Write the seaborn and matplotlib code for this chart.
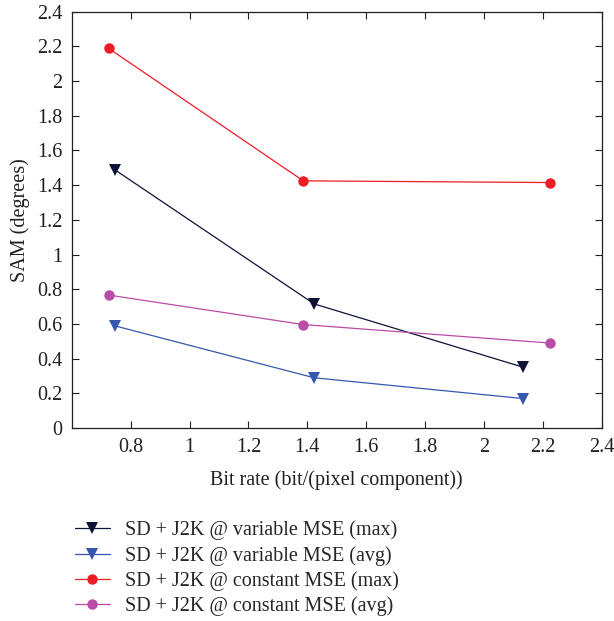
import matplotlib
matplotlib.use("Agg")
import matplotlib.pyplot as plt
import seaborn as sns
import pandas as pd

# Rate-distortion results: SAM vs bit rate
labels = [
    "SD + J2K @ variable MSE (max)",
    "SD + J2K @ variable MSE (avg)",
    "SD + J2K @ constant MSE (max)",
    "SD + J2K @ constant MSE (avg)",
]
rate_variable = [0.745, 1.423, 2.133]
rate_constant = [0.725, 1.386, 2.226]
sam_var_max = [1.49, 0.715, 0.35]
sam_var_avg = [0.589, 0.289, 0.169]
sam_const_max = [2.189, 1.425, 1.415]
sam_const_avg = [0.766, 0.596, 0.489]

colors = ["#0e1236", "#3657b0", "#ee1c25", "#b94ca6"]
markers = ["v", "v", "o", "o"]

frames = []
for lab, xs, ys in zip(
    labels,
    [rate_variable, rate_variable, rate_constant, rate_constant],
    [sam_var_max, sam_var_avg, sam_const_max, sam_const_avg],
):
    frames.append(pd.DataFrame({"rate": xs, "sam": ys, "series": lab}))
df = pd.concat(frames, ignore_index=True)

sns.set_theme(style="ticks")
plt.rcParams["font.family"] = ["Liberation Serif", "DejaVu Serif"]

fs = 14.5
fig = plt.figure(figsize=(6.14, 6.21), dpi=100)
ax = fig.add_axes([0.117, 0.311, 0.863, 0.670])

sns.lineplot(
    data=df, x="rate", y="sam", hue="series", style="series",
    hue_order=labels, style_order=labels,
    palette=dict(zip(labels, colors)),
    markers=dict(zip(labels, markers)),
    dashes=False, markersize=7.5, markeredgewidth=0, linewidth=0.9,
    sort=False, ax=ax,
)
# triangles a little larger than circles
for ln in ax.lines:
    if ln.get_marker() == "v":
        ln.set_markersize(8.5)

ax.set_xlim(0.6, 2.4)
ax.set_ylim(0, 2.4)
ax.set_xticks([0.8, 1.0, 1.2, 1.4, 1.6, 1.8, 2.0, 2.2, 2.4])
ax.set_xticklabels(["0.8", "1", "1.2", "1.4", "1.6", "1.8", "2", "2.2", "2.4"])
yt = [0, 0.2, 0.4, 0.6, 0.8, 1.0, 1.2, 1.4, 1.6, 1.8, 2.0, 2.2, 2.4]
ax.set_yticks(yt)
ax.set_yticklabels(["0", "0.2", "0.4", "0.6", "0.8", "1", "1.2", "1.4", "1.6", "1.8", "2", "2.2", "2.4"])
ax.tick_params(direction="in", top=True, right=True, length=5, width=0.8,
               labelsize=fs, colors="#231f20", pad=7)
for s in ax.spines.values():
    s.set_linewidth(0.9)
    s.set_color("#231f20")

ax.set_xlabel("Bit rate (bit/(pixel component))", fontsize=fs, color="#231f20", labelpad=10)
ax.set_ylabel("SAM (degrees)", fontsize=fs, color="#231f20", labelpad=5)

handles, labs = ax.get_legend_handles_labels()
for h in handles:
    if h.get_marker() == "v":
        h.set_markersize(8.5)
ax.legend(
    handles, labs, loc="upper left", bbox_to_anchor=(0.105, 0.178),
    bbox_transform=fig.transFigure, frameon=False, fontsize=fs,
    handlelength=1.75, handletextpad=0.75, labelspacing=0.28, borderpad=0,
)

fig.savefig("out.png", dpi=100)
